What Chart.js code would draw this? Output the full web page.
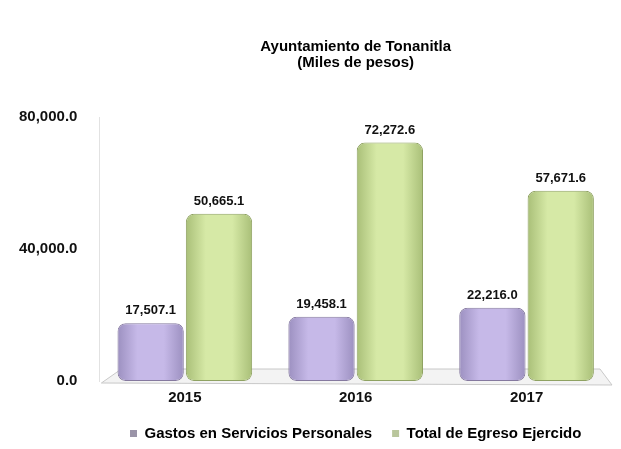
<!DOCTYPE html>
<html>
<head>
<meta charset="utf-8">
<script src="https://cdn.jsdelivr.net/npm/chart.js@4/dist/chart.umd.min.js"></script>
<style>
  html, body { margin: 0; padding: 0; background: #fff; }
  #wrap { width: 621px; height: 449px; }
</style>
</head>
<body>
<div id="wrap"><canvas id="c" width="621" height="449"></canvas></div>
<script>
// values (miles de pesos)
const years = ['2015', '2016', '2017']
const gastosPersonales = [17507.1, 19458.1, 22216.0]
const totalEgreso = [50665.1, 72272.6, 57671.6]
const yTicks = [0, 40000, 80000]

const FONT = "'Liberation Sans', Arial, sans-serif"
const fmt = v => v.toLocaleString('en-US', { minimumFractionDigits: 1, maximumFractionDigits: 1 })

const CATEGORY_PCT = 0.8
const BAR_PCT = 0.97

// horizontal shading so the bars look rounded, like the 3D columns of the original
function shade(edge, mid, datasetIdx) {
  return ctx => {
    const chart = ctx.chart
    const x = chart.scales.x
    if (!x || ctx.dataIndex === undefined) return mid
    const step = (x.right - x.left) / years.length
    const barW = step * CATEGORY_PCT / 2 * BAR_PCT
    const cx = x.getPixelForValue(ctx.dataIndex) + (datasetIdx === 0 ? -1 : 1) * step * CATEGORY_PCT / 4
    const g = chart.ctx.createLinearGradient(cx - barW / 2, 0, cx + barW / 2, 0)
    g.addColorStop(0, edge)
    g.addColorStop(0.3, mid)
    g.addColorStop(0.7, mid)
    g.addColorStop(1, edge)
    return g
  }
}

// the grey 3D floor under the columns
const floorPlugin = {
  id: 'floor',
  beforeDatasetsDraw(chart) {
    const { ctx, chartArea: a } = chart
    ctx.save()
    ctx.beginPath()
    ctx.moveTo(a.left + 22, a.bottom - 12)
    ctx.lineTo(a.right - 12, a.bottom - 12)
    ctx.lineTo(a.right, a.bottom + 4)
    ctx.lineTo(a.left + 2, a.bottom + 2)
    ctx.closePath()
    ctx.fillStyle = '#f3f3f3'
    ctx.fill()
    ctx.strokeStyle = '#c8c8c8'
    ctx.lineWidth = 1
    ctx.stroke()
    ctx.restore()
  }
}

// legend sits a bit closer to the axis labels than Chart.js puts it
const legendNudge = {
  id: 'legendNudge',
  afterLayout(chart) {
    const lg = chart.legend
    if (!lg) return
    lg.top -= 1
    lg.bottom -= 1
  }
}

// value labels above each column
const valueLabels = {
  id: 'valueLabels',
  afterDatasetsDraw(chart) {
    const { ctx } = chart
    ctx.save()
    ctx.font = `bold 13px ${FONT}`
    ctx.fillStyle = '#111'
    ctx.textAlign = 'center'
    ctx.textBaseline = 'bottom'
    chart.data.datasets.forEach((ds, i) => {
      chart.getDatasetMeta(i).data.forEach((bar, j) => {
        ctx.fillText(fmt(ds.data[j]), bar.x, bar.y - 6)
      })
    })
    ctx.restore()
  }
}

new Chart(document.getElementById('c'), {
  type: 'bar',
  data: {
    labels: years,
    datasets: [
      {
        label: 'Gastos en Servicios Personales',
        data: gastosPersonales,
        backgroundColor: shade('#9c90c0', '#c6b9e8', 0),
        borderColor: '#85799f',
        borderWidth: 1,
        borderRadius: 8,
        borderSkipped: false,
      },
      {
        label: 'Total de Egreso Ejercido',
        data: totalEgreso,
        backgroundColor: shade('#a9bf78', '#d6e9a6', 1),
        borderColor: '#8fa262',
        borderWidth: 1,
        borderRadius: 8,
        borderSkipped: false,
      },
    ],
  },
  options: {
    responsive: false,
    animation: false,
    categoryPercentage: CATEGORY_PCT,
    barPercentage: BAR_PCT,
    layout: { padding: { top: 39, right: 9, left: 5, bottom: -3 } },
    scales: {
      x: {
        grid: { display: false },
        border: { display: false },
        ticks: { color: '#111', font: { family: FONT, size: 15, weight: 'bold' }, padding: 0 },
      },
      y: {
        min: 0,
        max: 80000,
        afterBuildTicks: axis => { axis.ticks = yTicks.map(v => ({ value: v })) },
        grid: { display: false },
        border: { display: true, color: '#e2e2e2' },
        ticks: {
          color: '#111',
          font: { family: FONT, size: 15, weight: 'bold' },
          padding: 14,
          callback: v => fmt(v),
        },
      },
    },
    plugins: {
      title: {
        display: true,
        fullSize: false,
        text: ['Ayuntamiento de Tonanitla', '(Miles de pesos)'],
        color: '#000',
        font: { family: FONT, size: 15, weight: 'bold', lineHeight: 1.07 },
        padding: { top: 0, bottom: 46 },
      },
      legend: {
        position: 'bottom',
        fullSize: false,
        labels: {
          color: '#111',
          font: { family: FONT, size: 15, weight: 'bold' },
          boxWidth: 7,
          boxHeight: 7,
          padding: 20,
          generateLabels: chart => chart.data.datasets.map((ds, i) => ({
            text: ds.label,
            fillStyle: i === 0 ? '#9a94a8' : '#b9c69c',
            strokeStyle: i === 0 ? '#9a94a8' : '#b9c69c',
            lineWidth: 0,
            datasetIndex: i,
          })),
        },
      },
      tooltip: { enabled: false },
    },
  },
  plugins: [floorPlugin, valueLabels, legendNudge],
})
</script>
</body>
</html>
